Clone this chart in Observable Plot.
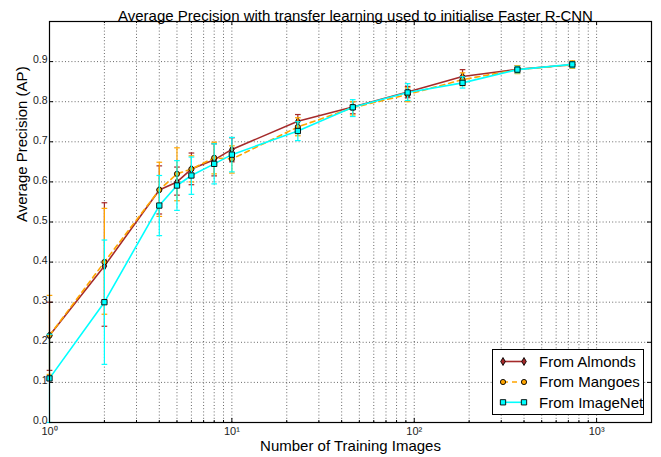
<!DOCTYPE html>
<html><head><meta charset="utf-8">
<script src="https://cdn.jsdelivr.net/npm/d3@7"></script>
<script src="https://cdn.jsdelivr.net/npm/@observablehq/plot@0.6"></script>
<style>
body{margin:0;background:#fff;}
#wrap{position:relative;width:661px;height:457px;font-family:"Liberation Sans",Arial,sans-serif;}
#legend{position:absolute;left:492px;top:349px;width:152px;height:66px;border:1px solid #000;background:#fff;box-sizing:border-box;}
#legend svg{display:block;}
</style></head><body><div id="wrap"></div>
<script>
// ---- data ----
const trainingImages = [1, 2, 4, 5, 6, 8, 10, 23, 46, 92, 184, 368, 736];

const almondsAP = [0.217, 0.39, 0.58, 0.60, 0.632, 0.655, 0.681, 0.751, 0.787, 0.824, 0.863, 0.881, 0.892];
const almondsLo = [0.13, 0.24, 0.52, 0.567, 0.593, 0.615, 0.65, 0.734, 0.77, 0.81, 0.846, 0.872, 0.885];
const almondsHi = [0.30, 0.548, 0.64, 0.637, 0.672, 0.695, 0.71, 0.768, 0.80, 0.838, 0.88, 0.89, 0.90];

const mangoesAP = [0.217, 0.40, 0.58, 0.62, 0.632, 0.66, 0.657, 0.737, 0.785, 0.818, 0.855, 0.88, 0.892];
const mangoesLo = [0.12, 0.27, 0.514, 0.553, 0.60, 0.62, 0.622, 0.715, 0.767, 0.80, 0.84, 0.87, 0.883];
const mangoesHi = [0.317, 0.534, 0.649, 0.685, 0.665, 0.699, 0.69, 0.76, 0.80, 0.835, 0.872, 0.89, 0.902];

const imagenetAP = [0.11, 0.30, 0.541, 0.591, 0.616, 0.645, 0.668, 0.727, 0.786, 0.823, 0.847, 0.88, 0.893];
const imagenetLo = [0.0, 0.145, 0.466, 0.529, 0.569, 0.595, 0.625, 0.703, 0.763, 0.803, 0.834, 0.872, 0.885];
const imagenetHi = [0.22, 0.455, 0.616, 0.653, 0.662, 0.695, 0.711, 0.75, 0.805, 0.845, 0.862, 0.888, 0.90];

const seriesNames = ["From Almonds", "From Mangoes", "From ImageNet"];
const yTickValues = [0, 0.1, 0.2, 0.3, 0.4, 0.5, 0.6, 0.7, 0.8, 0.9];
const xMajorTicks = [1, 10, 100, 1000];
const xTickLabels = ["10\u2070", "10\u00b9", "10\u00b2", "10\u00b3"];
const titleText = "Average Precision with transfer learning used to initialise Faster R-CNN";
const xLabelText = "Number of Training Images";
const yLabelText = "Average Precision (AP)";

// ---- build tables ----
const styles = [
  {name: seriesNames[0], ap: almondsAP, lo: almondsLo, hi: almondsHi, color: "#a52a2a", symbol: "diamond", r: 2.4, dash: null},
  {name: seriesNames[1], ap: mangoesAP, lo: mangoesLo, hi: mangoesHi, color: "#ffa500", symbol: "circle", r: 2.6, dash: "5,4"},
  {name: seriesNames[2], ap: imagenetAP, lo: imagenetLo, hi: imagenetHi, color: "#00ffff", symbol: "square", r: 3.0, dash: null}
];
const tables = styles.map(s => trainingImages.map((x, i) => ({x, ap: s.ap[i], lo: s.lo[i], hi: s.hi[i]})));

const xMinor = [];
for (const d of [1, 10, 100, 1000]) for (let m = 2; m <= 9; m++) if (d * m < 2000) xMinor.push(d * m);
const xGrid = [...xMajorTicks.slice(1), ...xMinor];

const capSymbol = {draw(ctx, size) { const w = Math.sqrt(size); ctx.moveTo(-w, 0); ctx.lineTo(w, 0); }};

const W = 661, H = 457, ML = 49, MR = 10, MT = 21, MB = 35;
const fw = W - ML - MR, fh = H - MT - MB;

const marks = [
  // grid
  Plot.ruleY(yTickValues.slice(1), {stroke: "#000", strokeWidth: 0.8, strokeDasharray: "1,2.2", strokeOpacity: 0.75}),
  Plot.ruleX(xGrid, {stroke: "#000", strokeWidth: 0.8, strokeDasharray: "1,2.2", strokeOpacity: 0.75}),
];

tables.forEach((t, k) => {
  const s = styles[k];
  marks.push(
    Plot.ruleX(t, {x: "x", y1: "lo", y2: "hi", stroke: s.color, strokeWidth: 1.2}),
    Plot.dot(t, {x: "x", y: "lo", symbol: capSymbol, r: 1.6, stroke: s.color, strokeWidth: 1.2, fill: "none"}),
    Plot.dot(t, {x: "x", y: "hi", symbol: capSymbol, r: 1.6, stroke: s.color, strokeWidth: 1.2, fill: "none"}),
    Plot.line(t, {x: "x", y: "ap", stroke: s.color, strokeWidth: 1.6, strokeDasharray: s.dash}),
    Plot.dot(t, {x: "x", y: "ap", symbol: s.symbol, r: s.r, fill: s.color, stroke: "#000", strokeWidth: 0.9})
  );
});

marks.push(
  // inner ticks
  Plot.ruleX(xMajorTicks, {stroke: "#000", insetTop: fh - 4}),
  Plot.ruleX(xMajorTicks, {stroke: "#000", insetBottom: fh - 4}),
  Plot.ruleX(xMinor, {stroke: "#000", insetTop: fh - 2}),
  Plot.ruleX(xMinor, {stroke: "#000", insetBottom: fh - 2}),
  Plot.ruleY(yTickValues, {stroke: "#000", insetRight: fw - 4}),
  Plot.ruleY(yTickValues, {stroke: "#000", insetLeft: fw - 4}),
  Plot.frame({stroke: "#000", strokeWidth: 1.2}),
  Plot.axisY(yTickValues, {anchor: "left", tickSize: 0, tickPadding: 2, dy: -1.5, tickFormat: d3.format(".1f"), fontSize: 10.5, fill: "#222"}),
  Plot.axisX(xMajorTicks, {anchor: "bottom", tickSize: 0, tickPadding: 4.5, tickFormat: (d) => xTickLabels[xMajorTicks.indexOf(d)], fontSize: 11, fill: "#222"}),
  Plot.text([titleText], {frameAnchor: "top", dy: -11, dx: 5, fontSize: 15, fill: "#000"}),
  Plot.text([xLabelText], {frameAnchor: "bottom", dy: 28.5, fontSize: 15, fill: "#000"}),
  Plot.text([yLabelText], {frameAnchor: "left", dx: -27, rotate: -90, fontSize: 15, fill: "#000"})
);

const chart = Plot.plot({
  width: W, height: H,
  marginLeft: ML, marginRight: MR, marginTop: MT, marginBottom: MB,
  style: {fontFamily: "'Liberation Sans', Arial, sans-serif", background: "#fff", overflow: "visible"},
  x: {type: "log", domain: [1, 2000], label: null},
  y: {domain: [0, 1], label: null},
  marks
});

const wrap = document.getElementById("wrap");
wrap.appendChild(chart);

// legend
const leg = document.createElement("div");
leg.id = "legend";
wrap.appendChild(leg);
const lsvg = d3.select(leg).append("svg").attr("width", 150).attr("height", 64);
const rowsY = [11.5, 32, 52.3];
styles.forEach((s, i) => {
  const g = lsvg.append("g").attr("transform", `translate(0,${rowsY[i]})`);
  g.append("line").attr("x1", 10).attr("x2", 31).attr("y1", 0).attr("y2", 0)
    .attr("stroke", s.color).attr("stroke-width", 1.6).attr("stroke-dasharray", s.dash);
  const sym = s.symbol === "diamond" ? d3.symbolDiamond : s.symbol === "circle" ? d3.symbolCircle : d3.symbolSquare;
  const path = d3.symbol(sym, Math.PI * s.r * s.r)();
  [10, 31].forEach(cx => g.append("path").attr("d", path).attr("transform", `translate(${cx},0)`)
    .attr("fill", s.color).attr("stroke", "#000").attr("stroke-width", 0.9));
  g.append("text").attr("x", 46).attr("y", 0).attr("dy", "0.35em").attr("font-size", 15)
    .attr("font-family", "'Liberation Sans', Arial, sans-serif").text(s.name);
});
</script>
</body></html>
